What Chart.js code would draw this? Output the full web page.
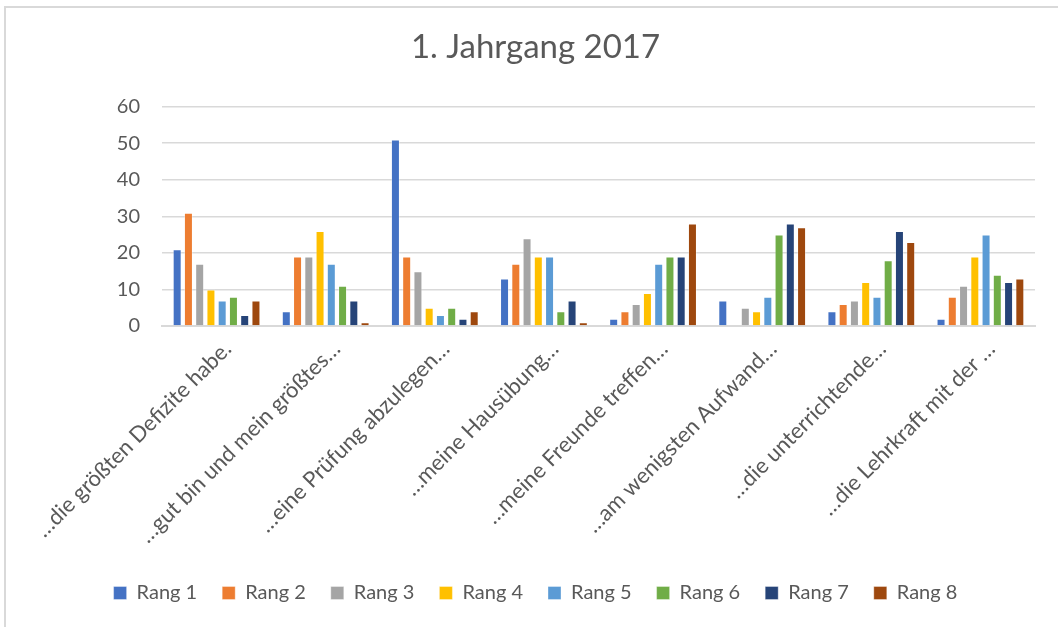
<!DOCTYPE html>
<html lang="de">
<head>
    <meta charset="UTF-8">
    <title>1. Jahrgang 2017</title>
    <style>
        body {
            margin: 0;
            padding: 0;
            background: #fff;
            overflow: hidden;
        }
        .frame {
            position: absolute;
            left: 4px;
            top: 6px;
            width: 1100px;
            height: 700px;
            border: 2px solid #d9d9d9;
        }
        #chart {
            position: absolute;
            left: 0;
            top: 0;
        }
    </style>
    <script src="https://cdn.jsdelivr.net/npm/chart.js"></script>
</head>
<body>
    <div class="frame"></div>
    <canvas id="chart" width="1058" height="627"></canvas>
    <script>
        // categories (x axis)
        var categories = [
            '…die größten Defizite habe.',
            '…gut bin und mein größtes…',
            '…eine Prüfung abzulegen…',
            '…meine Hausübung…',
            '…meine Freunde treffen…',
            '…am wenigsten Aufwand…',
            '…die unterrichtende…',
            '…die Lehrkraft mit der …'
        ];
        var seriesNames = ['Rang 1', 'Rang 2', 'Rang 3', 'Rang 4', 'Rang 5', 'Rang 6', 'Rang 7', 'Rang 8'];
        var seriesColors = ['#4472C4', '#ED7D31', '#A5A5A5', '#FFC000', '#5B9BD5', '#70AD47', '#264478', '#9E480E'];

        // values per series, one per category
        var rang1 = [21, 4, 51, 13, 2, 7, 4, 2];
        var rang2 = [31, 19, 19, 17, 4, 0, 6, 8];
        var rang3 = [17, 19, 15, 24, 6, 5, 7, 11];
        var rang4 = [10, 26, 5, 19, 9, 4, 12, 19];
        var rang5 = [7, 17, 3, 19, 17, 8, 8, 25];
        var rang6 = [8, 11, 5, 4, 19, 25, 18, 14];
        var rang7 = [3, 7, 2, 7, 19, 28, 26, 12];
        var rang8 = [7, 1, 4, 1, 28, 27, 23, 13];
        var seriesValues = [rang1, rang2, rang3, rang4, rang5, rang6, rang7, rang8];

        var yTicks = [0, 10, 20, 30, 40, 50, 60];

        var textColor = '#595959';
        var fontName = 'Lato, "Open Sans", sans-serif';

        var datasets = seriesNames.map(function (name, i) {
            return {
                label: name,
                data: seriesValues[i],
                backgroundColor: seriesColors[i],
                borderColor: 'rgba(255,255,255,0.35)',
                borderWidth: 1,
                categoryPercentage: 0.825,
                barPercentage: 0.8
            };
        });

        var ctx = document.getElementById('chart').getContext('2d');
        var chart = new Chart(ctx, {
            type: 'bar',
            data: {
                labels: categories,
                datasets: datasets
            },
            options: {
                responsive: false,
                animation: false,
                layout: {
                    padding: { left: 36, right: 23, top: 0, bottom: 14 }
                },
                plugins: {
                    title: {
                        display: true,
                        text: '1. Jahrgang 2017',
                        color: textColor,
                        font: { family: fontName, size: 33, weight: 'normal' },
                        padding: { top: 28, bottom: 39 }
                    },
                    legend: {
                        position: 'bottom',
                        labels: {
                            color: textColor,
                            font: { family: fontName, size: 20 },
                            boxWidth: 13,
                            boxHeight: 13,
                            padding: 25
                        }
                    },
                    tooltip: { enabled: false }
                },
                scales: {
                    x: {
                        grid: { display: false, drawTicks: false },
                        border: { display: true, color: '#d9d9d9', width: 2 },
                        ticks: {
                            color: textColor,
                            font: { family: fontName, size: 22 },
                            minRotation: 45,
                            maxRotation: 45,
                            autoSkip: false,
                            padding: 10,
                            labelOffset: 11
                        },
                        afterFit: function (scale) {
                            scale.height = 232;
                        }
                    },
                    y: {
                        min: 0,
                        max: 60,
                        grid: { color: '#d9d9d9', lineWidth: 1.5, drawTicks: false },
                        border: { display: false },
                        afterBuildTicks: function (scale) {
                            scale.ticks = yTicks.map(function (v) { return { value: v }; });
                        },
                        ticks: {
                            color: textColor,
                            font: { family: fontName, size: 20 },
                            padding: 22
                        },
                        afterFit: function (scale) {
                            scale.width = 126;
                        }
                    }
                }
            }
        });
    </script>
</body>
</html>
